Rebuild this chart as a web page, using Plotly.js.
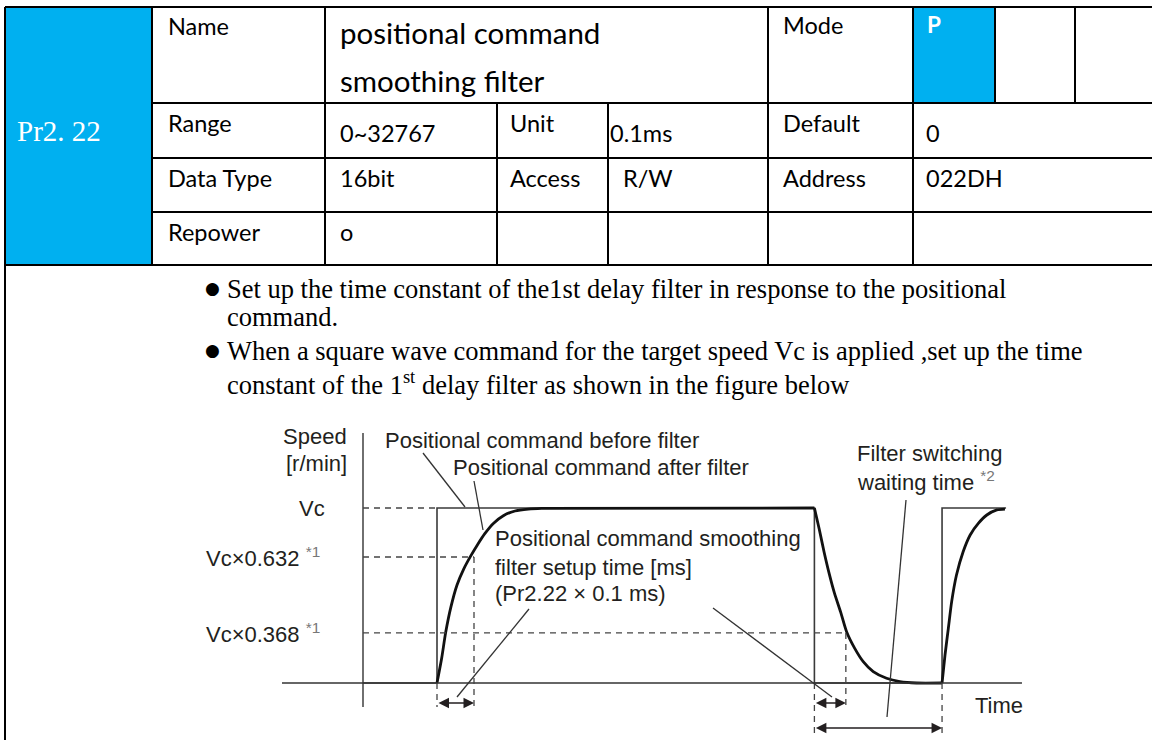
<!DOCTYPE html>
<html><head><meta charset="utf-8">
<script src="https://cdn.plot.ly/plotly-3.0.1.min.js"></script>
<style>html,body{margin:0;padding:0;background:#fff;}#chart{width:1152px;height:740px;}</style>
</head><body><div id="chart"></div>
<script>
// ---------------- data ----------------
const paramCode = 'Pr2. 22';
const nameLines = ['positional command', 'smoothing filter'];
const modeLabel = 'Mode';
const modeOptions = ['P', '', ''];
const row1Label = 'Name';
const row2Labels = ['Range', 'Unit', 'Default'];
const row2Values = ['0~32767', '0.1ms', '0'];
const row3Labels = ['Data Type', 'Access', 'Address'];
const row3Values = ['16bit', 'R/W', '022DH'];
const row4Labels = ['Repower'];
const row4Values = ['o'];
const bulletLines = [
  'Set up the time constant of the1st delay filter in response to the positional',
  'command.',
  'When a square wave command for the target speed Vc is applied ,set up the time',
  'constant of the 1<sup>st</sup> delay filter as shown in the figure below'
];
const bulletStarts = [true, false, true, false];

// diagram: speed as fraction of Vc (as drawn), time in filter-time-constant units
const levelLabels = ['Vc', 'Vc×0.632', 'Vc×0.368'];
const levelNotes = ['', '*1', '*1'];
const levelValues = [1, 0.72, 0.286];
const yAxisTitle = ['Speed', '[r/min]'];
const xAxisTitle = 'Time';
const beforeLabel = 'Positional command before filter';
const afterLabel = 'Positional command after filter';
const setupLabel = ['Positional command smoothing', 'filter setup time [ms]', '(Pr2.22 × 0.1 ms)'];
const waitLabel = ['Filter switching', 'waiting time'];
const waitNote = '*2';

const cmdT = [0, 2.0, 2.0, 12.2, 12.2, 15.65, 15.65, 17.38];
const cmdV = [0, 0, 1, 1, 0, 0, 1, 1];
const riseT = [2.0, 2.126, 2.234, 2.378, 2.541, 2.721, 2.901, 3.099, 3.297, 3.523, 3.793, 4.108, 4.468, 4.829, 12.2];
const riseV = [0, 0.141, 0.288, 0.436, 0.560, 0.651, 0.722, 0.792, 0.855, 0.912, 0.956, 0.983, 0.994, 0.998, 1.0];
const decayT = [12.2, 12.33, 12.46, 12.60, 12.74, 12.91, 13.07, 13.29, 13.52, 13.79, 14.15, 14.51, 14.96, 15.65];
const decayV = [1, 0.88, 0.75, 0.625, 0.515, 0.405, 0.293, 0.198, 0.122, 0.065, 0.027, 0.008, 0, 0];
const rise2T = [15.65, 15.73, 15.82, 15.91, 16.04, 16.22, 16.41, 16.63, 16.86, 17.13, 17.35];
const rise2V = [0, 0.16, 0.312, 0.465, 0.617, 0.750, 0.846, 0.912, 0.96, 0.989, 0.994];
// timing marks: step on, tau end, step off, decay tau, step on again
const markT = [2.0, 3.0, 12.2, 13.05, 15.65];
const axisT = [-2.19, 17.81];

// ---------------- layout geometry ----------------
const W = 1152, H = 740;
const T0PX = 363, TPX = 37, V0PX = 683, VPX = 175;
const px2t = x => (x - T0PX) / TPX;
const py2v = y => (V0PX - y) / VPX;
const fx = x => x / W;
const fy = y => 1 - y / H;

const INK = '#231f20';
const BLUE = '#00b0f0';
const tableFont = 'Lato, "Open Sans", sans-serif';
const diaFont = '"Liberation Sans", Arial, sans-serif';
const serifFont = '"Liberation Serif", "Times New Roman", serif';

const shapes = [];
const annotations = [];

function pline(x0, y0, x1, y1, w, color, dash) {
  shapes.push({type: 'line', xref: 'paper', yref: 'paper', x0: fx(x0), y0: fy(y0), x1: fx(x1), y1: fy(y1),
    line: {color: color || '#000', width: w || 2, dash: dash || 'solid'}});
}
function dline(t0, v0, t1, v1, w, color, dash) {
  shapes.push({type: 'line', xref: 'x', yref: 'y', x0: t0, y0: v0, x1: t1, y1: v1,
    line: {color: color || INK, width: w || 1.3, dash: dash || 'solid'}});
}
function ptext(text, x, y, font, size, opts) {
  annotations.push(Object.assign({
    text: text, xref: 'paper', yref: 'paper', x: fx(x), y: fy(y), showarrow: false,
    xanchor: 'left', yanchor: 'middle', borderpad: 0,
    font: {family: font, size: size, color: '#000'}
  }, opts || {}));
}

// ---- table ----
const rowY = [7, 103, 158, 212, 265];
const colX = [5, 152, 325, 497, 608, 768, 913, 995, 1075];
shapes.push({type: 'rect', xref: 'paper', yref: 'paper', x0: fx(colX[0]), x1: fx(colX[1]), y0: fy(rowY[0]), y1: fy(rowY[4]), fillcolor: BLUE, line: {width: 0}, layer: 'below'});
shapes.push({type: 'rect', xref: 'paper', yref: 'paper', x0: fx(colX[6]), x1: fx(colX[7]), y0: fy(rowY[0]), y1: fy(rowY[1]), fillcolor: BLUE, line: {width: 0}, layer: 'below'});
pline(colX[0], rowY[0], W, rowY[0]);
pline(colX[1], rowY[1], W, rowY[1]);
pline(colX[1], rowY[2], W, rowY[2]);
pline(colX[1], rowY[3], W, rowY[3]);
pline(colX[0], rowY[4], W, rowY[4]);
pline(colX[0], rowY[0], colX[0], H);
pline(colX[1], rowY[0], colX[1], rowY[4]);
pline(colX[2], rowY[0], colX[2], rowY[4]);
pline(colX[3], rowY[1], colX[3], rowY[4]);
pline(colX[4], rowY[1], colX[4], rowY[4]);
pline(colX[5], rowY[0], colX[5], rowY[4]);
pline(colX[6], rowY[0], colX[6], rowY[4]);
pline(colX[7], rowY[0], colX[7], rowY[1]);
pline(colX[8], rowY[0], colX[8], rowY[1]);

const LBL = 23.5, BIG = 29.5;
ptext(paramCode, 16, 131, serifFont, 29, {font: {family: serifFont, size: 29, color: '#ffffff'}});
ptext(row1Label, 167, 26, tableFont, LBL);
ptext(nameLines[0], 339, 33, tableFont, BIG);
ptext(nameLines[1], 339, 80, tableFont, BIG);
ptext(modeLabel, 782, 25, tableFont, LBL);
ptext(modeOptions[0], 926, 25, tableFont, LBL - 1, {font: {family: tableFont, size: LBL - 1, color: '#ffffff', weight: 'bold'}});
const labelCols = [167, 509, 782];
const valueCols = [339, 609, 925];
row2Labels.forEach((s, i) => ptext(s, labelCols[i], 123, tableFont, LBL));
row2Values.forEach((s, i) => ptext(s, valueCols[i], 133, tableFont, LBL));
row3Labels.forEach((s, i) => ptext(s, labelCols[i], 178, tableFont, LBL));
row3Values.forEach((s, i) => ptext(s, i === 1 ? 622 : valueCols[i], 178, tableFont, LBL));
row4Labels.forEach((s, i) => ptext(s, labelCols[i], 232, tableFont, LBL));
row4Values.forEach((s, i) => ptext(s, valueCols[i], 232, tableFont, LBL));

// ---- bullets ----
const bulletY = [289, 317, 351, 383];
bulletLines.forEach((s, i) => {
  ptext(s, 226, bulletY[i], serifFont, 26.5);
  if (bulletStarts[i]) ptext('●', 204, bulletY[i] - 1, '"DejaVu Sans", sans-serif', 17);
});

// ---- diagram frame ----
dline(0, py2v(707), 0, py2v(433), 1.4, '#333');              // speed axis
dline(axisT[0], 0, axisT[1], 0, 1.5, '#333');                 // time axis
const DASH = '6px,5px';
dline(0, levelValues[0], markT[0], levelValues[0], 1.3, '#444', DASH);
dline(0, levelValues[1], markT[1], levelValues[1], 1.3, '#444', DASH);
dline(0, levelValues[2], markT[3], levelValues[2], 1.3, '#444', DASH);
dline(markT[0], 0, markT[0], py2v(707), 1.3, '#444', DASH);
dline(markT[1], levelValues[1], markT[1], py2v(707), 1.3, '#444', DASH);
dline(markT[2], 0, markT[2], py2v(733), 1.3, '#444', DASH);
dline(markT[3], levelValues[2], markT[3], py2v(707), 1.3, '#444', DASH);
dline(markT[4], 0, markT[4], py2v(733), 1.3, '#444', DASH);

// leader lines (pixel positions)
const leaders = [[423, 453, 465, 507], [474, 481, 483, 530], [529, 609, 457, 697], [713, 608, 832, 697], [906, 500, 887, 717]];
leaders.forEach(l => dline(px2t(l[0]), py2v(l[1]), px2t(l[2]), py2v(l[3]), 1.3, '#333'));

// double-headed dimension arrows between timing marks
function darrow(t0, t1, v) {
  annotations.push({xref: 'x', yref: 'y', axref: 'x', ayref: 'y', x: t1, y: v, ax: t0, ay: v, text: '',
    showarrow: true, arrowhead: 2, startarrowhead: 2, arrowside: 'end+start', arrowsize: 1.4, startarrowsize: 1.4,
    arrowwidth: 1.5, arrowcolor: INK, standoff: 0, startstandoff: 0});
}
darrow(markT[0], markT[1], py2v(703));
darrow(markT[2], markT[3], py2v(703));
darrow(markT[2], markT[4], py2v(728));

// diagram labels
const DS = 22;
const dfont = {family: diaFont, size: DS, color: INK};
ptext(yAxisTitle[0], 348, 436, diaFont, DS, {xanchor: 'right', font: dfont});
ptext(yAxisTitle[1], 348, 463, diaFont, DS, {xanchor: 'right', font: dfont});
levelLabels.forEach((s, i) => {
  const note = levelNotes[i] ? ' <sup><span style="color:#777">' + levelNotes[i] + '</span></sup>' : '';
  annotations.push({text: s + note, xref: 'x', yref: 'y', x: px2t(i === 0 ? 326 : 321), y: levelValues[i], showarrow: false,
    xanchor: 'right', yanchor: 'middle', borderpad: 0, font: dfont});
});
ptext(beforeLabel, 384, 440, diaFont, DS, {font: dfont});
ptext(afterLabel, 452, 467, diaFont, DS, {font: dfont});
ptext(setupLabel[0], 494, 538, diaFont, DS, {font: dfont});
ptext(setupLabel[1], 494, 567, diaFont, DS, {font: dfont});
ptext(setupLabel[2], 494, 593, diaFont, DS, {font: dfont});
ptext(waitLabel[0], 856, 453, diaFont, DS, {font: dfont});
ptext(waitLabel[1] + ' <sup><span style="color:#777">' + waitNote + '</span></sup>', 856, 481, diaFont, DS, {font: dfont});
ptext(xAxisTitle, 974, 705, diaFont, DS, {font: dfont});

// ---------------- traces ----------------
const curveLine = {color: '#111', width: 2.8, shape: 'spline', smoothing: 0.7};
const traces = [
  {x: cmdT, y: cmdV, type: 'scatter', mode: 'lines', line: {color: '#3a3a3a', width: 1.6}, hoverinfo: 'skip'},
  {x: riseT, y: riseV, type: 'scatter', mode: 'lines', line: curveLine, hoverinfo: 'skip'},
  {x: decayT, y: decayV, type: 'scatter', mode: 'lines', line: curveLine, hoverinfo: 'skip'},
  {x: rise2T, y: rise2V, type: 'scatter', mode: 'lines', line: curveLine, hoverinfo: 'skip'}
];

const layout = {
  width: W, height: H, margin: {l: 0, r: 0, t: 0, b: 0, pad: 0},
  paper_bgcolor: '#fff', plot_bgcolor: 'rgba(0,0,0,0)', showlegend: false,
  xaxis: {range: [px2t(0), px2t(W)], domain: [0, 1], visible: false, fixedrange: true},
  yaxis: {range: [py2v(H), py2v(0)], domain: [0, 1], visible: false, fixedrange: true},
  shapes: shapes, annotations: annotations
};
Plotly.newPlot('chart', traces, layout, {displayModeBar: false, staticPlot: true});
</script>
</body></html>
